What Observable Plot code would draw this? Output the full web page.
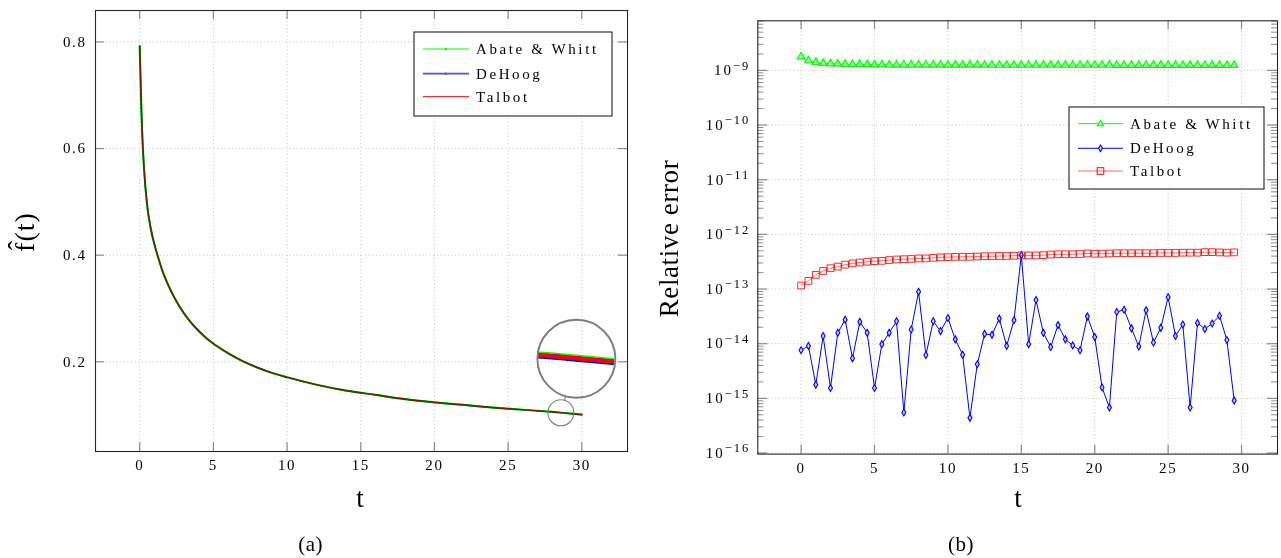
<!DOCTYPE html>
<html><head><meta charset="utf-8">
<script src="https://cdn.jsdelivr.net/npm/d3@7"></script>
<script src="https://cdn.jsdelivr.net/npm/@observablehq/plot@0.6"></script>
<style>
body{margin:0;background:#fff;}
#wrap{position:relative;width:1281px;height:558px;overflow:hidden;background:#fff;}
#wrap > svg{position:absolute;top:0;}
.plotsvg text{letter-spacing:1.6px;font-size:15px !important;font-family:"Liberation Serif","Times New Roman",serif;}
</style></head><body><div id="wrap"></div>
<script>
// ---------- Data (a): reconstructed f(t), three methods overlapping ----------
const tA      = [0, 0.05, 0.1, 0.2, 0.3, 0.5, 0.75, 1, 1.25, 1.5, 2, 2.5, 3, 3.5, 4, 4.5, 5, 6, 7, 8, 9, 10, 12, 14, 16, 18, 20, 22, 24, 26, 27, 28, 29, 30];
const fAbate  = [0.792, 0.74, 0.685, 0.61, 0.56, 0.495, 0.45, 0.42, 0.396, 0.374, 0.34, 0.313, 0.291, 0.273, 0.258, 0.245, 0.234, 0.216, 0.201, 0.189, 0.179, 0.171, 0.157, 0.146, 0.138, 0.130, 0.124, 0.119, 0.114, 0.110, 0.108, 0.106, 0.1035, 0.101];
const fDeHoog = [0.792, 0.74, 0.685, 0.61, 0.56, 0.495, 0.45, 0.42, 0.396, 0.374, 0.34, 0.313, 0.291, 0.273, 0.258, 0.245, 0.234, 0.216, 0.201, 0.189, 0.179, 0.171, 0.157, 0.146, 0.138, 0.130, 0.124, 0.119, 0.114, 0.110, 0.108, 0.106, 0.1035, 0.101];
const fTalbot = [0.792, 0.74, 0.685, 0.61, 0.56, 0.495, 0.45, 0.42, 0.396, 0.374, 0.34, 0.313, 0.291, 0.273, 0.258, 0.245, 0.234, 0.216, 0.201, 0.189, 0.179, 0.171, 0.157, 0.146, 0.138, 0.130, 0.124, 0.119, 0.114, 0.110, 0.108, 0.106, 0.1035, 0.101];

// ---------- Data (b): relative error ----------
const tB = [0, 0.5, 1, 1.5, 2, 2.5, 3, 3.5, 4, 4.5, 5, 5.5, 6, 6.5, 7, 7.5, 8, 8.5, 9, 9.5, 10, 10.5, 11, 11.5, 12, 12.5, 13, 13.5, 14, 14.5, 15, 15.5, 16, 16.5, 17, 17.5, 18, 18.5, 19, 19.5, 20, 20.5, 21, 21.5, 22, 22.5, 23, 23.5, 24, 24.5, 25, 25.5, 26, 26.5, 27, 27.5, 28, 28.5, 29, 29.5];
const errAbate = [1.78e-9, 1.51e-9, 1.41e-9, 1.35e-9, 1.33e-9, 1.32e-9, 1.30e-9, 1.29e-9, 1.29e-9, 1.28e-9, 1.27e-9, 1.27e-9, 1.26e-9, 1.26e-9, 1.26e-9, 1.26e-9, 1.26e-9, 1.26e-9, 1.26e-9, 1.26e-9, 1.26e-9, 1.255e-9, 1.255e-9, 1.255e-9, 1.255e-9, 1.25e-9, 1.25e-9, 1.25e-9, 1.25e-9, 1.25e-9, 1.25e-9, 1.25e-9, 1.25e-9, 1.25e-9, 1.25e-9, 1.25e-9, 1.25e-9, 1.25e-9, 1.25e-9, 1.25e-9, 1.25e-9, 1.25e-9, 1.25e-9, 1.245e-9, 1.245e-9, 1.245e-9, 1.245e-9, 1.245e-9, 1.245e-9, 1.245e-9, 1.245e-9, 1.245e-9, 1.24e-9, 1.24e-9, 1.24e-9, 1.24e-9, 1.24e-9, 1.24e-9, 1.24e-9, 1.24e-9];
const errDeHoog = [7.6e-15, 9.1e-15, 1.78e-15, 1.38e-14, 1.55e-15, 1.58e-14, 2.75e-14, 5.4e-15, 2.51e-14, 1.58e-14, 1.55e-15, 9.8e-15, 1.58e-14, 2.57e-14, 5.5e-16, 1.82e-14, 8.9e-14, 6.2e-15, 2.57e-14, 1.70e-14, 2.95e-14, 1.20e-14, 6.3e-15, 4.4e-16, 4.2e-15, 1.51e-14, 1.45e-14, 2.88e-14, 9.1e-15, 2.69e-14, 4.17e-13, 9.8e-15, 6.3e-14, 1.58e-14, 8.7e-15, 2.19e-14, 1.20e-14, 9.3e-15, 7.6e-15, 3.16e-14, 1.32e-14, 1.58e-15, 6.8e-16, 3.80e-14, 4.17e-14, 1.91e-14, 8.9e-15, 4.07e-14, 1.05e-14, 1.95e-14, 7.1e-14, 1.38e-14, 2.24e-14, 6.8e-16, 2.40e-14, 1.86e-14, 2.34e-14, 3.24e-14, 1.17e-14, 9.1e-16];
const errTalbot = [1.16e-13, 1.41e-13, 1.82e-13, 2.14e-13, 2.40e-13, 2.57e-13, 2.79e-13, 2.95e-13, 3.05e-13, 3.16e-13, 3.24e-13, 3.28e-13, 3.39e-13, 3.47e-13, 3.51e-13, 3.55e-13, 3.63e-13, 3.63e-13, 3.72e-13, 3.80e-13, 3.83e-13, 3.87e-13, 3.89e-13, 3.89e-13, 3.93e-13, 3.98e-13, 3.98e-13, 4.02e-13, 4.02e-13, 4.07e-13, 4.12e-13, 4.12e-13, 4.12e-13, 4.17e-13, 4.27e-13, 4.32e-13, 4.32e-13, 4.32e-13, 4.37e-13, 4.47e-13, 4.42e-13, 4.42e-13, 4.47e-13, 4.52e-13, 4.52e-13, 4.52e-13, 4.52e-13, 4.52e-13, 4.52e-13, 4.57e-13, 4.57e-13, 4.57e-13, 4.62e-13, 4.62e-13, 4.62e-13, 4.73e-13, 4.73e-13, 4.68e-13, 4.62e-13, 4.68e-13];

// ---------- Ticks & labels ----------
const xTicks = [0, 5, 10, 15, 20, 25, 30];
const fTicks = [0.2, 0.4, 0.6, 0.8];
const errExponents = [-16, -15, -14, -13, -12, -11, -10, -9];
const minorMultipliers = [2, 3, 4, 5, 6, 7, 8, 9];
const seriesNames = ["Abate & Whitt", "DeHoog", "Talbot"];
const labelsText = {yA: "f\u0302(t)", yB: "Relative error", x: "t", capA: "(a)", capB: "(b)"};

// ---------- Styles ----------
const FONT = '"Liberation Serif", "Times New Roman", serif';
const C_GREEN = "#00ff00", C_BLUE = "#0000ff", C_RED = "#ff0000";
const TICK = "#8c8c8c";
const grid = {stroke: "#bdbdbd", strokeDasharray: "1,2.6", strokeWidth: 0.9};
const FRAME = {stroke: "#262626", strokeWidth: 1.1};
const ns = "http://www.w3.org/2000/svg";
const wrap = document.getElementById("wrap");

// ================= Chart (a) =================
const A = {width: 640, height: 520, ml: 95, mr: 13, mt: 10, mb: 69};
const AH = A.height - A.mt - A.mb, AW = A.width - A.ml - A.mr;
const xDomA = [-3, 33.1], yDomA = [0.0317, 0.859];
const rowsA = tA.map((t, i) => ({t, a: fAbate[i], d: fDeHoog[i], tb: fTalbot[i]}));

// magnifier ("spy") geometry in data units
const spySmall = {t: 28.58, f: 0.1043};
const spyBig = {t: 29.63, f: 0.2056};
const spyR = 13, spyZoom = 3;
const spyRows = rowsA.filter(d => d.t >= 26).map(d => ({
  x: spyBig.t + spyZoom * (d.t - spySmall.t),
  a: spyBig.f + spyZoom * (d.a - spySmall.f),
  d: spyBig.f + spyZoom * (d.d - spySmall.f),
  tb: spyBig.f + spyZoom * (d.tb - spySmall.f)
}));

const plotA = Plot.plot({
  width: A.width, height: A.height,
  marginLeft: A.ml, marginRight: A.mr, marginTop: A.mt, marginBottom: A.mb,
  style: {fontFamily: FONT, fontSize: "15px", background: "transparent", color: "#000", overflow: "visible"},
  x: {domain: xDomA, ticks: xTicks, tickSize: 0, tickPadding: 8, label: null},
  y: {domain: yDomA, ticks: fTicks, tickSize: 0, tickPadding: 9, label: null, tickFormat: d => d.toFixed(1)},
  marks: [
    Plot.ruleX(xTicks, {x: d => d, ...grid}),
    Plot.ruleY(fTicks, {y: d => d, ...grid}),
    Plot.ruleX(xTicks, {x: d => d, insetTop: AH - 9, stroke: TICK, strokeWidth: 1.2}),
    Plot.ruleX(xTicks, {x: d => d, insetBottom: AH - 9, stroke: TICK, strokeWidth: 1.2}),
    Plot.ruleY(fTicks, {y: d => d, insetRight: AW - 9, stroke: TICK, strokeWidth: 1.2}),
    Plot.ruleY(fTicks, {y: d => d, insetLeft: AW - 9, stroke: TICK, strokeWidth: 1.2}),
    Plot.line(rowsA, {x: "t", y: "a", stroke: C_GREEN, strokeWidth: 2.2, curve: "monotone-x"}),
    Plot.line(rowsA, {x: "t", y: "d", stroke: C_BLUE, strokeWidth: 1.7, strokeOpacity: 0.75, mixBlendMode: "multiply", curve: "monotone-x"}),
    Plot.line(rowsA, {x: "t", y: "tb", stroke: C_RED, strokeWidth: 1.2, strokeOpacity: 0.45, curve: "monotone-x"}),
    // magnifier
    Plot.dot([spySmall], {x: "t", y: "f", r: spyR, stroke: "#7c7c7c", strokeWidth: 1.1, fill: "none"}),
    Plot.arrow([0], {x1: () => spySmall.t, y1: () => spySmall.f, x2: () => spyBig.t, y2: () => spyBig.f,
      insetStart: spyR, insetEnd: spyR * spyZoom, headLength: 0, stroke: "#7c7c7c", strokeWidth: 1.2}),
    Plot.line(spyRows, {x: "x", y: "a", stroke: C_GREEN, strokeWidth: 6.5, dy: -0.5, className: "spyline"}),
    Plot.line(spyRows, {x: "x", y: "d", stroke: C_BLUE, strokeWidth: 5.5, dy: 0.6, strokeDasharray: "2,1", className: "spyline"}),
    Plot.line(spyRows, {x: "x", y: "tb", stroke: C_RED, strokeWidth: 4.2, strokeDasharray: "1.6,1.1", className: "spyline"}),
    Plot.dot([spyBig], {x: "t", y: "f", r: spyR * spyZoom, stroke: "#7c7c7c", strokeWidth: 1.9, fill: "none"}),
    Plot.frame(FRAME)
  ]
});
plotA.classList.add("plotsvg");
plotA.style.left = "0px";
plotA.style.maxWidth = "none";
wrap.appendChild(plotA);

// clip the magnified lines to the lens circle (center from the x/y scales)
(function () {
  const sx = plotA.scale("x"), sy = plotA.scale("y");
  const px = sx.apply(spyBig.t), py = sy.apply(spyBig.f);
  const defs = document.createElementNS(ns, "defs");
  const cp = document.createElementNS(ns, "clipPath");
  cp.setAttribute("id", "spyclip");
  const c = document.createElementNS(ns, "circle");
  c.setAttribute("cx", px); c.setAttribute("cy", py); c.setAttribute("r", spyR * spyZoom - 0.6);
  cp.appendChild(c); defs.appendChild(cp); plotA.appendChild(defs);
  const groups = plotA.querySelectorAll("g.spyline");
  if (!groups.length) return;
  const holder = document.createElementNS(ns, "g");
  holder.setAttribute("clip-path", "url(#spyclip)");
  groups[0].parentNode.insertBefore(holder, groups[0]);
  groups.forEach(g => holder.appendChild(g));
})();

// ================= Chart (b) =================
const B = {width: 641, height: 520, ml: 117.3, mr: 4, mt: 20.3, mb: 66.4};
const BH = B.height - B.mt - B.mb, BW = B.width - B.ml - B.mr;
const rowsB = tB.map((t, i) => ({t, a: errAbate[i], d: errDeHoog[i], tb: errTalbot[i]}));
const yDomainB = [Math.pow(10, -16.02), Math.pow(10, -8.093)];
const majors = errExponents.map(e => Math.pow(10, e));
const minors = [];
for (const e of [-17, ...errExponents]) for (const m of minorMultipliers) {
  const v = m * Math.pow(10, e);
  if (v > yDomainB[0] && v < yDomainB[1]) minors.push(v);
}

const plotB = Plot.plot({
  width: B.width, height: B.height,
  marginLeft: B.ml, marginRight: B.mr, marginTop: B.mt, marginBottom: B.mb,
  style: {fontFamily: FONT, fontSize: "15px", background: "transparent", color: "#000", overflow: "visible"},
  x: {domain: [-2.95, 32.45], ticks: xTicks, tickSize: 0, tickPadding: 8, label: null},
  y: {type: "log", domain: yDomainB, ticks: majors, tickSize: 0, tickPadding: 7.5, label: null,
      tickFormat: v => "10^" + Math.round(Math.log10(v))},
  marks: [
    Plot.ruleX(xTicks, {x: d => d, ...grid}),
    Plot.ruleY(majors, {y: d => d, ...grid}),
    Plot.ruleX(xTicks, {x: d => d, insetTop: BH - 9, stroke: TICK, strokeWidth: 1.2}),
    Plot.ruleX(xTicks, {x: d => d, insetBottom: BH - 9, stroke: TICK, strokeWidth: 1.2}),
    Plot.ruleY(majors, {y: d => d, insetRight: BW - 10, stroke: TICK, strokeWidth: 1.2}),
    Plot.ruleY(majors, {y: d => d, insetLeft: BW - 10, stroke: TICK, strokeWidth: 1.2}),
    Plot.ruleY(minors, {y: d => d, insetRight: BW - 6, stroke: TICK, strokeWidth: 1}),
    Plot.ruleY(minors, {y: d => d, insetLeft: BW - 6, stroke: TICK, strokeWidth: 1}),
    Plot.line(rowsB, {x: "t", y: "a", stroke: C_GREEN, strokeWidth: 1}),
    Plot.dot(rowsB, {x: "t", y: "a", symbol: "triangle", r: 2.8, stroke: C_GREEN, strokeWidth: 1.2, fill: "#9cff9c"}),
    Plot.line(rowsB, {x: "t", y: "d", stroke: C_BLUE, strokeWidth: 1}),
    Plot.dot(rowsB, {x: "t", y: "d", symbol: "diamond", r: 2.1, stroke: C_BLUE, strokeWidth: 1.1, fill: "#c8c8ff"}),
    Plot.line(rowsB, {x: "t", y: "tb", stroke: C_RED, strokeWidth: 1, strokeOpacity: 0.6}),
    Plot.dot(rowsB, {x: "t", y: "tb", symbol: "square", r: 3.8, stroke: C_RED, strokeWidth: 1, strokeOpacity: 0.85, fill: "none"}),
    Plot.frame(FRAME)
  ]
});
plotB.classList.add("plotsvg");
plotB.style.left = "640px";
plotB.style.maxWidth = "none";
wrap.appendChild(plotB);

// superscript exponents on log axis labels
plotB.querySelectorAll("text").forEach(t => {
  const s = t.textContent;
  if (!s.startsWith("10^")) return;
  const exp = s.slice(3).replace("-", "\u2212");
  t.textContent = "";
  const base = document.createElementNS(ns, "tspan"); base.textContent = "10";
  base.setAttribute("style", "font-size:15px");
  const sup = document.createElementNS(ns, "tspan"); sup.textContent = exp;
  sup.setAttribute("dy", "-5.5"); sup.setAttribute("style", "font-size:12.5px");
  t.appendChild(base); t.appendChild(sup);
  t.style.letterSpacing = "2px";
});

// ================= Overlay: labels & legends =================
const ov = document.createElementNS(ns, "svg");
ov.setAttribute("width", 1281); ov.setAttribute("height", 558);
ov.style.left = "0px"; ov.style.fontFamily = FONT;
wrap.appendChild(ov);
function txt(str, x, y, size, opts = {}) {
  const e = document.createElementNS(ns, "text");
  e.textContent = str;
  e.setAttribute("x", x); e.setAttribute("y", y);
  e.setAttribute("font-size", size);
  e.setAttribute("text-anchor", opts.anchor || "middle");
  if (opts.ls) e.setAttribute("letter-spacing", opts.ls);
  if (opts.rotate) e.setAttribute("transform", `rotate(${opts.rotate} ${x} ${y})`);
  e.setAttribute("fill", "#000");
  ov.appendChild(e);
  return e;
}
function el(name, attrs) {
  const e = document.createElementNS(ns, name);
  for (const k in attrs) e.setAttribute(k, attrs[k]);
  ov.appendChild(e);
  return e;
}
txt(labelsText.yA, 34, 232, 28, {rotate: -90, ls: "1px"});
txt(labelsText.x, 360, 507, 27);
txt(labelsText.capA, 310.6, 551, 21, {ls: "0.5px"});
txt(labelsText.yB, 678, 238.5, 27, {rotate: -90, ls: "0.6px"});
txt(labelsText.x, 1018, 507, 27);
txt(labelsText.capB, 961, 551, 21, {ls: "0.5px"});

// legend (a)
el("rect", {x: 414, y: 32, width: 198, height: 84, fill: "#fff", stroke: "#222", "stroke-width": 1.1});
const legA = [
  {name: seriesNames[0], c: C_GREEN, w: 1.2, dot: true, y: 49},
  {name: seriesNames[1], c: "#4d4dff", w: 1.8, dot: true, y: 73.7},
  {name: seriesNames[2], c: C_RED, w: 1, dot: false, y: 96.7}
];
legA.forEach(r => {
  el("line", {x1: 423, x2: 469, y1: r.y, y2: r.y, stroke: r.c, "stroke-width": r.w});
  if (r.dot) el("circle", {cx: 446, cy: r.y, r: 1.2, fill: r.c});
  txt(r.name, 476, r.y + 5, 15, {anchor: "start", ls: "2.6px"});
});

// legend (b)
el("rect", {x: 1069, y: 107, width: 195, height: 82, fill: "#fff", stroke: "#222", "stroke-width": 1.1});
const legB = [
  {name: seriesNames[0], c: C_GREEN, op: 1, y: 123.7, sym: "triangle"},
  {name: seriesNames[1], c: C_BLUE, op: 1, y: 148.3, sym: "diamond"},
  {name: seriesNames[2], c: C_RED, op: 0.6, y: 171, sym: "square"}
];
legB.forEach(r => {
  el("line", {x1: 1078, x2: 1123, y1: r.y, y2: r.y, stroke: r.c, "stroke-width": 1, "stroke-opacity": r.op});
  const cx = 1100.5, cy = r.y;
  if (r.sym === "triangle") el("path", {d: `M${cx},${cy - 3.3}L${cx + 3.2},${cy + 2}L${cx - 3.2},${cy + 2}Z`, stroke: C_GREEN, fill: "#9cff9c", "stroke-width": 1.1});
  if (r.sym === "diamond") el("path", {d: `M${cx},${cy - 3.3}L${cx + 2},${cy}L${cx},${cy + 3.3}L${cx - 2},${cy}Z`, stroke: C_BLUE, fill: "#c8c8ff", "stroke-width": 1.1});
  if (r.sym === "square") el("rect", {x: cx - 3.3, y: cy - 3.3, width: 6.6, height: 6.6, stroke: C_RED, fill: "none", "stroke-width": 1});
  txt(r.name, 1130, r.y + 5, 15, {anchor: "start", ls: "2.6px"});
});
</script></body></html>
